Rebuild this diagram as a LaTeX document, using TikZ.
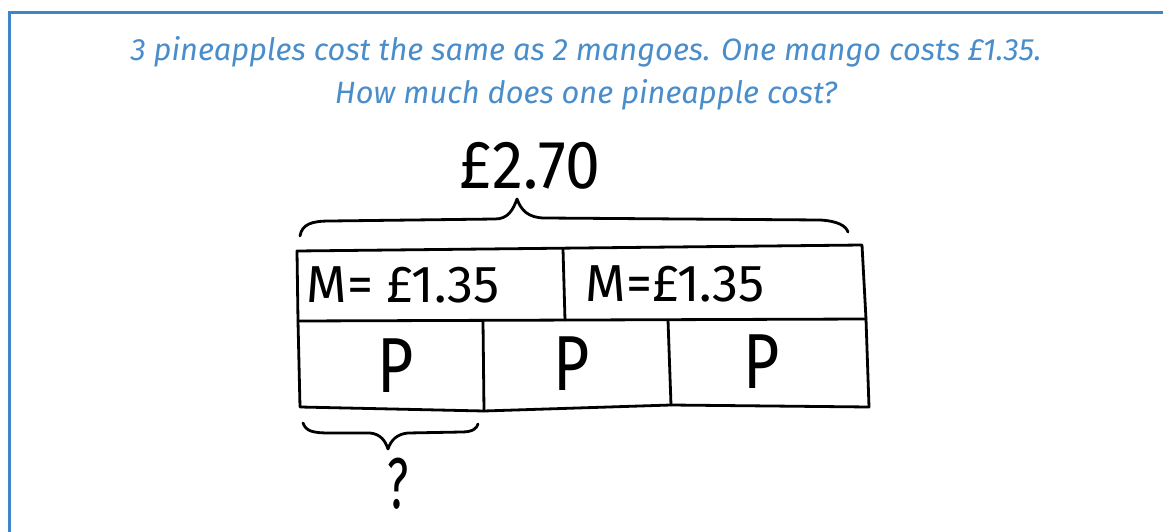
\documentclass[tikz,border=0pt]{standalone}
\usepackage{fontspec}
\setmainfont{Fira Sans}
\newfontfamily\hand{Fira Sans}
\definecolor{qblue}{HTML}{4A8DCB}
\definecolor{frameblue}{HTML}{3E86C8}
\begin{document}
\begin{tikzpicture}[x=1pt,y=-1pt,
  ink/.style={line width=2.8pt, line cap=round, line join=round},
  qtext/.style={text=qblue, font=\itshape\fontsize{30.8}{30.8}\selectfont, inner sep=0pt},
  handbig/.style={font=\hand\fontsize{68}{68}\selectfont, inner sep=0pt, xscale=0.92},
  handmid/.style={font=\hand\fontsize{52}{52}\selectfont, inner sep=0pt, xscale=1.0},
  handp/.style={font=\hand\fontsize{78}{78}\selectfont, inner sep=0pt, xscale=0.8}]
\useasboundingbox (0,0) rectangle (1163,532);
\draw[frameblue, line width=3pt] (9.5,532) -- (9.5,12.5) -- (1163,12.5);
\node[qtext] (q1) at (586,52) {3 pineapples cost the same as 2 mangoes. One mango costs £1.35.};
\node[qtext] (q2) at (586,95) {How much does one pineapple cost?};
% hand labels
\node[handbig] (total) at (530,166) {£2.70};
\node[handmid] (m1) at (403,285) {M= £1.35};
\node[handmid] (m2) at (675,284) {M=£1.35};
\node[handp] (p1) at (396,366) {P};
\node[handp] (p2) at (572,364) {P};
\node[handp] (p3) at (762,362) {P};
\node[handp, font=\hand\fontsize{72}{72}\selectfont, xscale=0.8] (qm) at (398,484) {?};
% box corners
\coordinate (A) at (297,251);
\coordinate (C) at (862,245);
\coordinate (B) at (563,249);
\coordinate (E) at (565,320);
\coordinate (D) at (298,321);
\coordinate (F) at (866,319);
\coordinate (G) at (300,407);
\coordinate (J) at (869,407);
\coordinate (H1) at (483,321);
\coordinate (H2) at (484,411);
\coordinate (I1) at (668,320);
\coordinate (I2) at (671,405);
\draw[ink] (A) -- (C) -- (F) -- (J) -- (I2) -- (H2) -- (G) -- (D) -- cycle;
\draw[ink] (D) -- (F);
\draw[ink] (B) -- (E);
\draw[ink] (H1) -- (H2);
\draw[ink] (I1) -- (I2);
% top brace
\coordinate (tb1) at (300,236);
\coordinate (tbt) at (517,199);
\coordinate (tb2) at (848,232);
\draw[ink] (tb1) .. controls (302,224) and (312,221) .. (330,221) -- (495,219)
  .. controls (508,219) and (513,210) .. (tbt)
  .. controls (521,210) and (528,218) .. (545,218) -- (820,220)
  .. controls (838,221) and (846,226) .. (tb2);
% bottom brace
\coordinate (bb1) at (303,423);
\coordinate (bbt) at (388,449);
\coordinate (bb2) at (478,424);
\draw[ink] (bb1) .. controls (306,431) and (312,433) .. (330,433) -- (370,433)
  .. controls (380,434) and (385,440) .. (bbt)
  .. controls (391,440) and (397,434) .. (408,433) -- (462,432)
  .. controls (473,432) and (477,428) .. (bb2);
\end{tikzpicture}
\end{document}
